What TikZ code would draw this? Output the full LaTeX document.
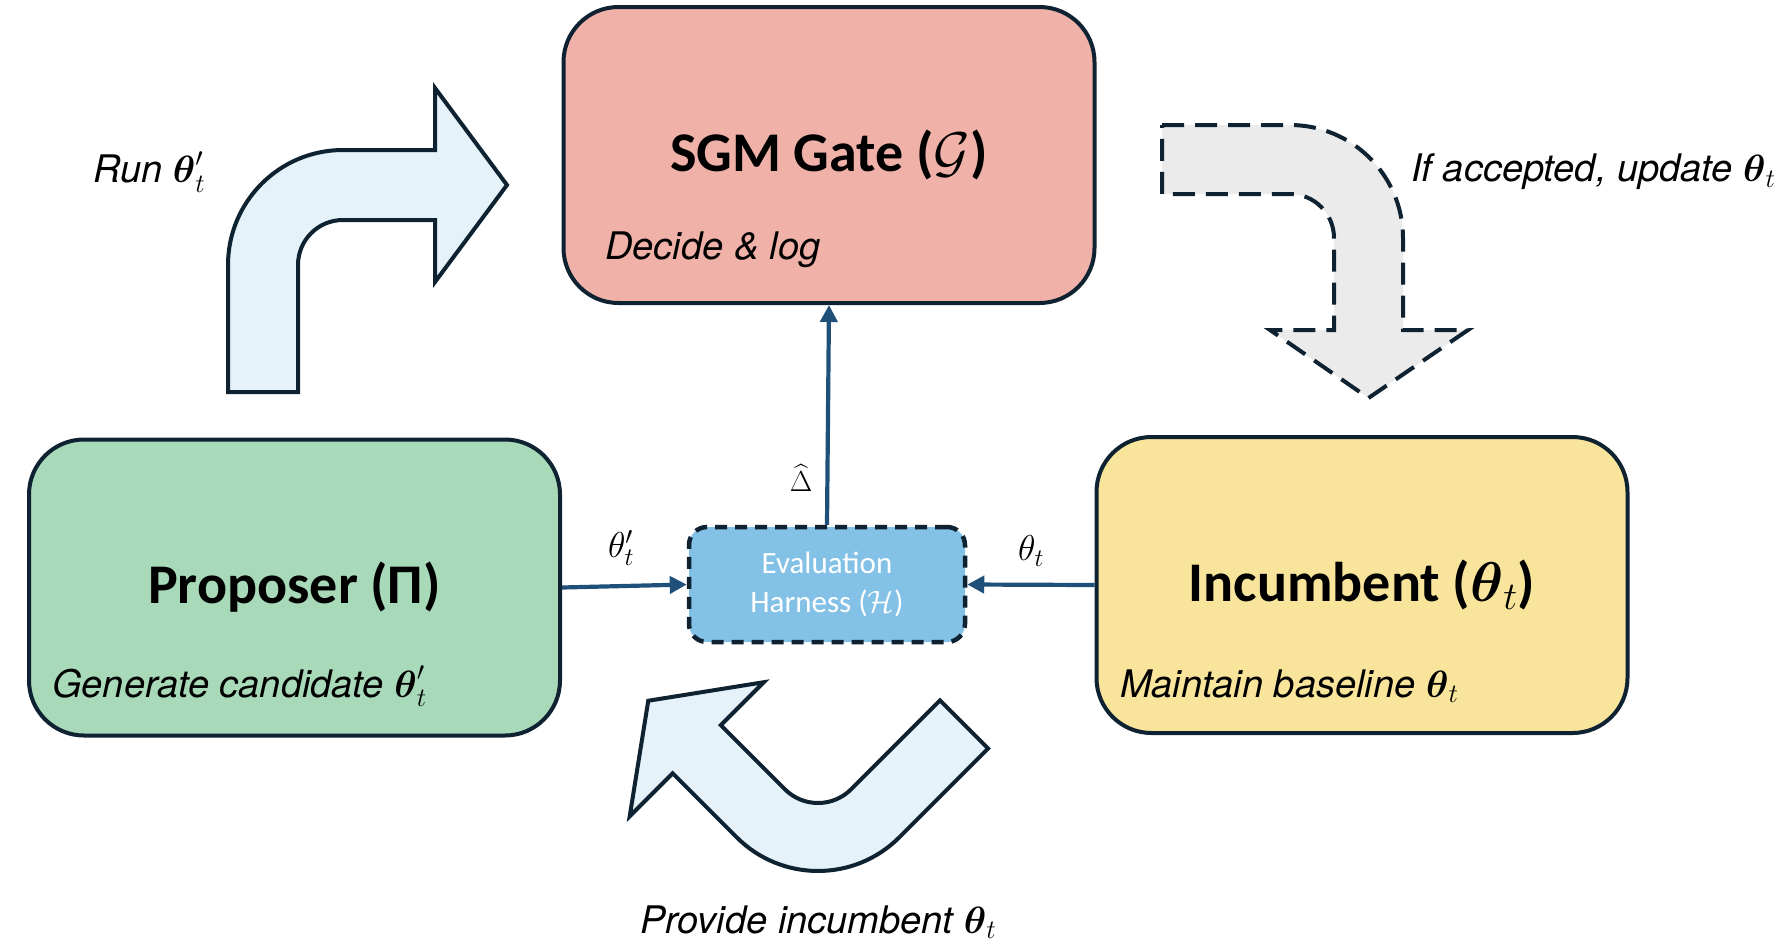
\RequirePackage{fix-cm}
\documentclass[tikz,border=0pt]{standalone}
\usepackage{amsmath}
\usepackage{fontspec}
\usetikzlibrary{arrows.meta}
\newfontfamily\ttlfont{Carlito}
\newfontfamily\labfont{TeX Gyre Heros}
\definecolor{bordc}{HTML}{0E2231}
\definecolor{gatec}{HTML}{EFB1A8}
\definecolor{propc}{HTML}{A8D9B9}
\definecolor{incc}{HTML}{F8E59B}
\definecolor{harnc}{HTML}{83C1E6}
\definecolor{arrc}{HTML}{E6F2FA}
\definecolor{greyc}{HTML}{EBEBEB}
\definecolor{linec}{HTML}{1F5079}
\tikzset{
  mainbox/.style={draw=bordc, line width=4pt, rounded corners=55pt, inner sep=0pt,
    minimum width=531pt, minimum height=296pt,
    font={\ttlfont\bfseries\fontsize{56}{62}\selectfont}, text=black},
  harnbox/.style={draw=bordc, fill=harnc, line width=4.5pt, dash pattern=on 12pt off 8pt,
    rounded corners=18pt, inner sep=0pt, minimum width=276pt, minimum height=115pt,
    align=center, text=white, font={\ttlfont\fontsize{31}{39}\selectfont}},
  subtext/.style={inner sep=0pt, font={\labfont\itshape\fontsize{38}{42}\selectfont}},
  outlab/.style={inner sep=0pt, font={\labfont\itshape\fontsize{38}{42}\selectfont}},
  edgelab/.style={inner sep=0pt, font={\fontsize{36}{40}\selectfont}},
  conn/.style={draw=linec, line width=4.2pt, -{Triangle[length=17pt,width=17pt]}},
  blockarrow/.style={draw=bordc, fill=arrc, line width=4pt},
  dasharrow/.style={draw=bordc, fill=greyc, line width=4pt, dash pattern=on 22pt off 11pt}
}
\begin{document}
\begin{tikzpicture}[x=1pt,y=-1pt]
\useasboundingbox[fill=white] (0,0) rectangle (1792,946);

% block arrows
\path[blockarrow] (228,392) -- (228,265) .. controls (228,201.5) and (279.5,150) .. (343,150)
  -- (435,150) -- (435,88) -- (507,185) -- (435,282) -- (435,220) -- (343,220)
  .. controls (318.1,220) and (298,240.1) .. (298,265) -- (298,392) -- cycle;

\path[dasharrow] (1162,125) -- (1290,125) .. controls (1352.4,125) and (1403,175.6) .. (1403,238)
  -- (1403,330) -- (1468,330) -- (1368.5,398) -- (1270,330) -- (1334,330) -- (1334,238)
  .. controls (1334,213.7) and (1314.3,194) .. (1290,194) -- (1162,194) -- cycle;

\path[blockarrow] (940,700.4) -- (851.2,789.2) .. controls (832.8,807.6) and (803.2,807.6) .. (784.8,789.2)
  -- (720.8,725.2) -- (763.8,682.2) -- (648.25,700.75) -- (629.7,816.3) -- (672.7,773.3)
  -- (736.7,837.3) .. controls (781.6,882.2) and (854.4,882.2) .. (899.3,837.3)
  -- (988.1,748.5) -- cycle;

% boxes
\node[mainbox, fill=gatec] (gate) at (829,155) {SGM Gate ($\mathcal{G}$)};
\node[mainbox, fill=propc] (prop) at (294.5,587.5) {Proposer (Π)};
\node[mainbox, fill=incc] (inc) at (1362,585) {Incumbent ($\boldsymbol{\theta}_t$)};
\node[harnbox] (harn) at (827,584.5) {Evaluation\\Harness ($\mathcal{H}$)};

% subtitles
\node[subtext, anchor=base west] (gatesub) at (605,259) {Decide \& log};
\node[subtext, anchor=base west] (propsub) at (52,697) {Generate candidate $\boldsymbol{\theta}'_t$};
\node[subtext, anchor=base west] (incsub) at (1120,697) {Maintain baseline $\boldsymbol{\theta}_t$};

% connectors
\draw[conn] (prop.east) -- (harn.west);
\draw[conn] (inc.west) -- (harn.east);
\draw[conn] (harn.north) -- (gate.south);

% edge labels
\node[edgelab] (lab1) at (621,548) {$\theta'_t$};
\node[edgelab] (lab2) at (1031,551) {$\theta_t$};
\node[edgelab, font={\fontsize{29}{33}\selectfont}] (lab3) at (801,478) {$\widehat{\Delta}$};

% outer labels
\node[outlab, anchor=west] (runlab) at (93,172) {Run $\boldsymbol{\theta}'_t$};
\node[outlab, anchor=west] (acclab) at (1411,172) {If accepted, update $\boldsymbol{\theta}_t$};
\node[outlab, anchor=west] (provlab) at (640,922) {Provide incumbent\ $\boldsymbol{\theta}_t$};
\end{tikzpicture}
\end{document}
